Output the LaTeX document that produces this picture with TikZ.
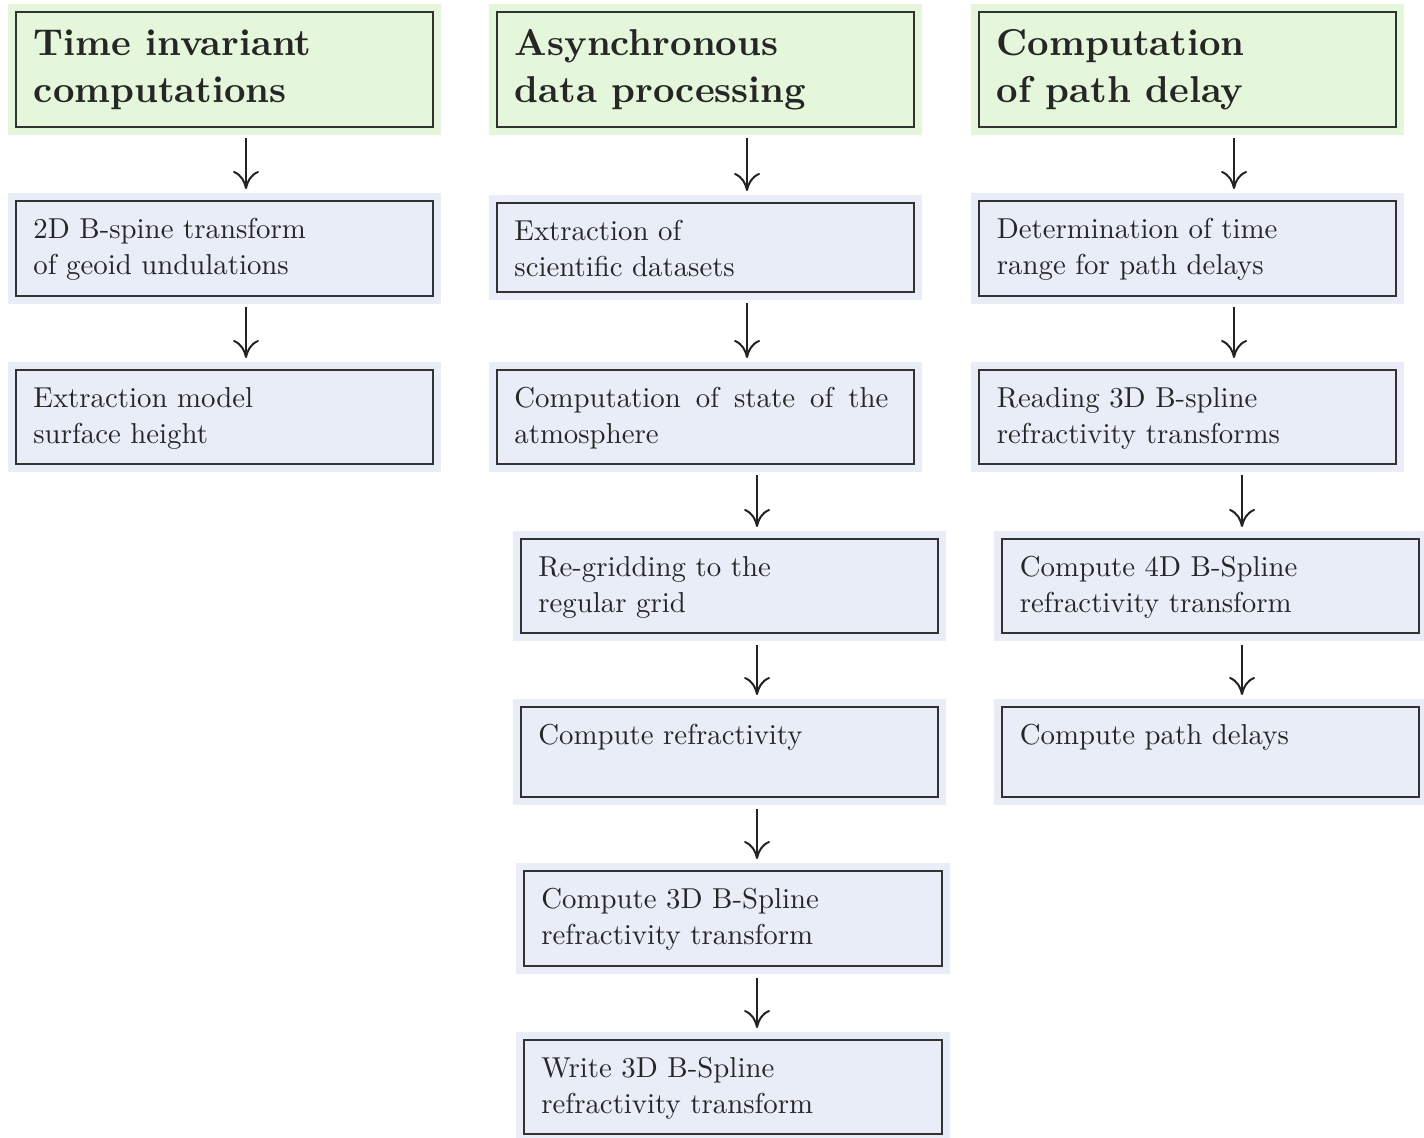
\documentclass[tikz,border=0pt]{standalone}
\usepackage{fontspec}
\setmainfont{lmroman10-regular}[Extension=.otf, BoldFont=lmroman10-bold]
\usetikzlibrary{arrows.meta}
\definecolor{hfill}{RGB}{228,247,218}
\definecolor{bfill}{RGB}{232,237,247}
\definecolor{bordc}{RGB}{50,50,50}
\definecolor{txtc}{RGB}{38,38,38}
\definecolor{arrc}{RGB}{35,35,35}
\newcommand{\headfont}{\fontsize{18.7}{23.5}\selectfont\bfseries}
\newcommand{\bodyfont}{\fontsize{14.4}{18}\selectfont}
\newcommand{\hstrut}{\rule{0pt}{15pt}}
\newcommand{\bstrut}{\rule{0pt}{10.8pt}}
\tikzset{
  hbox/.style={draw=bordc, line width=0.75pt, fill=hfill,
    preaction={draw=hfill, line width=8pt},
    inner sep=0pt, outer sep=0pt, anchor=north west, minimum width=208.5pt},
  bbox/.style={draw=bordc, line width=0.75pt, fill=bfill,
    preaction={draw=bfill, line width=8pt},
    inner sep=0pt, outer sep=0pt, anchor=north west, minimum width=208.5pt},
  htxt/.style={anchor=north west, inner sep=0pt, align=left, font=\headfont, text=txtc},
  btxt/.style={anchor=north west, inner sep=0pt, align=left, font=\bodyfont, text=txtc},
  arr/.style={-{Computer Modern Rightarrow[length=9pt,width=13pt]}, line width=1pt,
    draw=arrc, shorten <=5.75pt, shorten >=6pt}
}
\begin{document}
\begin{tikzpicture}[x=0.5pt,y=-0.5pt]
\useasboundingbox (0,0) rectangle (1424,1138);
\clip (0,0) rectangle (1424,1138);
% column 1
\node[hbox, minimum height=57.5pt] (h1) at (16,12) {};
\node[bbox, minimum height=47.5pt] (c1b2) at (16,201) {};
\node[bbox, minimum height=47pt] (c1b3) at (16,370) {};
% column 2
\node[hbox, minimum height=57.5pt] (h2) at (497,12) {};
\node[bbox, minimum height=44.5pt] (c2b2) at (497,203) {};
\node[bbox, minimum height=47pt] (c2b3) at (497,370) {};
\node[bbox, minimum height=47pt] (c2b4) at (521,539) {};
\node[bbox, minimum height=45pt] (c2b5) at (521,707) {};
\node[bbox, minimum height=47.5pt, minimum width=209pt] (c2b6) at (524,871) {};
\node[bbox, minimum height=47pt, minimum width=209pt] (c2b7) at (524,1040) {};
% column 3
\node[hbox, minimum height=57.5pt] (h3) at (979,12) {};
\node[bbox, minimum height=47.5pt] (c3b2) at (979,201) {};
\node[bbox, minimum height=47pt] (c3b3) at (979,370) {};
\node[bbox, minimum height=47pt] (c3b4) at (1002,539) {};
\node[bbox, minimum height=45pt] (c3b5) at (1002,707) {};
% texts
\node[htxt] (t-h1) at ([shift={(8.75pt,-6.5pt)}]h1.north west) {\hstrut Time invariant\\computations};
\node[htxt] (t-h2) at ([shift={(8.75pt,-6.5pt)}]h2.north west) {\hstrut Asynchronous\\data processing};
\node[htxt] (t-h3) at ([shift={(8.75pt,-6.5pt)}]h3.north west) {\hstrut Computation\\of path delay};
\node[btxt] (t-c1b2) at ([shift={(8.5pt,-7.7pt)}]c1b2.north west) {\bstrut 2D B-spine transform\\of geoid undulations};
\node[btxt] (t-c1b3) at ([shift={(8.5pt,-7.7pt)}]c1b3.north west) {\bstrut Extraction model\\surface height};
\node[btxt] (t-c2b2) at ([shift={(8.5pt,-7.7pt)}]c2b2.north west) {\bstrut Extraction of\\scientific datasets};
\node[btxt] (t-c2b3) at ([shift={(8.5pt,-7.7pt)}]c2b3.north west) {\bstrut \makebox[187pt][s]{Computation of state of the}\\atmosphere};
\node[btxt] (t-c2b4) at ([shift={(8.5pt,-7.7pt)}]c2b4.north west) {\bstrut Re-gridding to the\\regular grid};
\node[btxt] (t-c2b5) at ([shift={(8.5pt,-7.7pt)}]c2b5.north west) {\bstrut Compute refractivity};
\node[btxt] (t-c2b6) at ([shift={(8.5pt,-7.7pt)}]c2b6.north west) {\bstrut Compute 3D B-Spline\\refractivity transform};
\node[btxt] (t-c2b7) at ([shift={(8.5pt,-7.7pt)}]c2b7.north west) {\bstrut Write 3D B-Spline\\refractivity transform};
\node[btxt] (t-c3b2) at ([shift={(8.75pt,-7.7pt)}]c3b2.north west) {\bstrut Determination of time\\range for path delays};
\node[btxt] (t-c3b3) at ([shift={(8.75pt,-7.7pt)}]c3b3.north west) {\bstrut Reading 3D B-spline\\refractivity transforms};
\node[btxt] (t-c3b4) at ([shift={(8.75pt,-7.7pt)}]c3b4.north west) {\bstrut Compute 4D B-Spline\\refractivity transform};
\node[btxt] (t-c3b5) at ([shift={(8.75pt,-7.7pt)}]c3b5.north west) {\bstrut Compute path delays};
% arrow columns
\coordinate (x1) at (246,0);
\coordinate (x2) at (747,0);
\coordinate (x2b) at (757,0);
\coordinate (x3) at (1234,0);
\coordinate (x3b) at (1242,0);
% arrows
\draw[arr] (h1.south -| x1) -- (c1b2.north -| x1);
\draw[arr] (c1b2.south -| x1) -- (c1b3.north -| x1);
\draw[arr] (h2.south -| x2) -- (c2b2.north -| x2);
\draw[arr] (c2b2.south -| x2) -- (c2b3.north -| x2);
\draw[arr] (c2b3.south -| x2b) -- (c2b4.north -| x2b);
\draw[arr] (c2b4.south -| x2b) -- (c2b5.north -| x2b);
\draw[arr] (c2b5.south -| x2b) -- (c2b6.north -| x2b);
\draw[arr] (c2b6.south -| x2b) -- (c2b7.north -| x2b);
\draw[arr] (h3.south -| x3) -- (c3b2.north -| x3);
\draw[arr] (c3b2.south -| x3) -- (c3b3.north -| x3);
\draw[arr] (c3b3.south -| x3b) -- (c3b4.north -| x3b);
\draw[arr] (c3b4.south -| x3b) -- (c3b5.north -| x3b);
\end{tikzpicture}
\end{document}
